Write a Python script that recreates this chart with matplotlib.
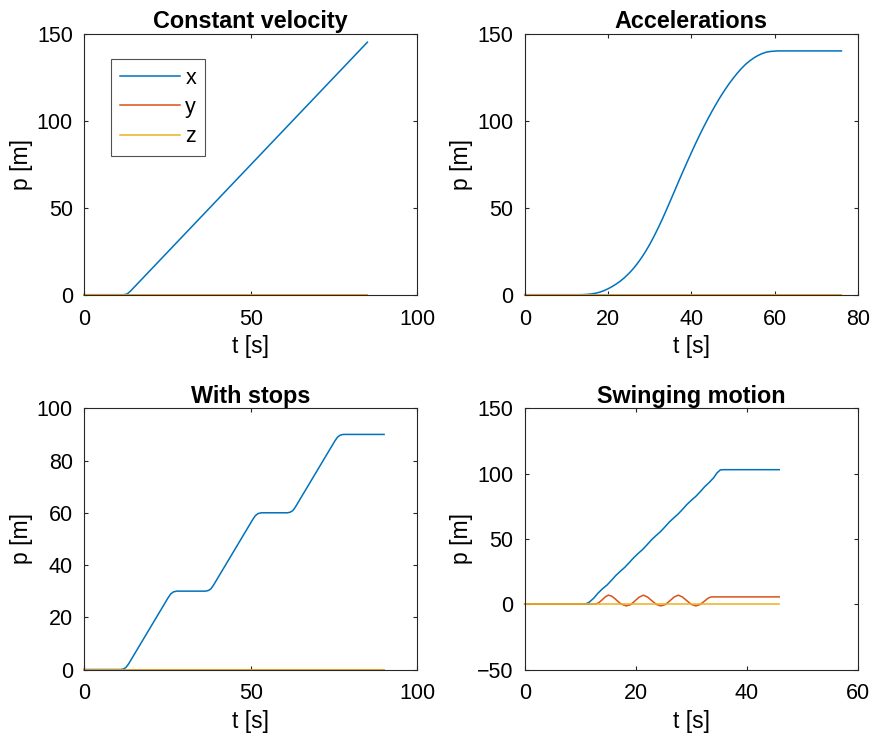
#!/usr/bin/env python3
import matplotlib
matplotlib.use("Agg")
import matplotlib.pyplot as plt

# Trajectory samples for four test cases: time [s] and position [m]
# Constant velocity
t_const = [0, 12.0, 13.0, 14.0, 15.0, 85.0]
x_const = [0, 0.0, 0.5, 2.2, 4.2, 145.0]
tend_const = 85.0

# Accelerations (smooth S-curve)
t_acc = [0, 13, 14, 15, 16, 17, 18, 19, 20, 21, 22, 23, 24, 25, 26, 27, 28,
         29, 30, 31, 32, 33, 34, 35, 36, 37, 38, 39, 40, 41, 42, 43, 44, 45,
         46, 47, 48, 49, 50, 51, 52, 53, 54, 55, 56, 57, 58, 59, 60, 61, 62, 76]
x_acc = [0, 0, 0.05, 0.2, 0.45, 0.85, 1.45, 2.3, 3.4, 4.7, 6.2, 7.9, 9.9,
         12.2, 14.8, 17.8, 21.1, 24.8, 28.9, 33.4, 38.2, 43.3, 48.7, 54.2,
         59.8, 65.4, 70.9, 76.3, 81.6, 86.8, 91.8, 96.6, 101.2, 105.6, 109.8,
         113.8, 117.5, 121.0, 124.2, 127.2, 129.9, 132.3, 134.3, 136.0, 137.4,
         138.5, 139.3, 139.7, 139.9, 140.0, 140.0, 140.0]
tend_acc = 76.0

# With stops
t_stop = [0, 11.0, 11.8, 12.6, 13.4, 25.2, 26.0, 26.8, 27.8,
          36.4, 37.2, 38.0, 38.8, 50.6, 51.4, 52.2, 53.2,
          61.0, 61.8, 62.6, 63.4, 75.2, 76.0, 76.8, 77.8, 90.0]
x_stop = [0, 0, 0.2, 0.8, 2.2, 27.4, 28.9, 29.7, 30.0,
          30.0, 30.2, 30.8, 32.2, 57.4, 58.9, 59.7, 60.0,
          60.0, 60.2, 60.8, 62.2, 87.4, 88.9, 89.7, 90.0, 90.0]
tend_stop = 90.0

# Swinging motion
t_sw_x = [0, 10.9, 11.6, 12.4, 13.2, 14.0, 14.8, 15.6, 16.4, 17.2, 18.0,
          18.8, 19.6, 20.4, 21.2, 22.0, 22.8, 23.6, 24.4, 25.2, 26.0, 26.8,
          27.6, 28.4, 29.2, 30.0, 30.8, 31.6, 32.4, 33.2, 34.0, 34.6, 35.2,
          35.8, 45.8]
x_sw = [0, 0, 1.5, 4.5, 8.5, 11.8, 14.6, 18.2, 22.0, 25.2, 28.2,
        31.8, 35.5, 38.8, 41.8, 45.4, 49.2, 52.4, 55.4, 59.0, 62.8, 66.0,
        69.0, 72.6, 76.4, 79.6, 82.6, 86.2, 90.0, 93.2, 96.8, 100.5, 102.8,
        103.0, 103.0]
t_sw_y = [0, 12.7, 13.3, 13.9, 14.5, 15.05, 15.6, 16.2, 16.8, 17.4, 18.3,
          19.1, 19.8, 20.6, 21.35, 22.1, 22.9, 23.7, 24.5, 25.3, 26.1, 26.9,
          27.65, 28.4, 29.2, 30.0, 30.8, 31.6, 32.4, 33.0, 33.5, 34.0, 45.8]
y_sw = [0, 0, 1.0, 3.2, 5.6, 6.9, 6.3, 4.4, 2.0, 0.0, -1.3,
        -0.3, 2.4, 5.4, 6.9, 5.5, 2.6, -0.2, -1.3, -0.3, 2.5, 5.5,
        6.9, 5.5, 2.6, -0.2, -1.3, -0.2, 2.5, 4.6, 5.5, 5.6, 5.6]
tend_sw = 45.8

C_X = "#0072BD"
C_Y = "#D95319"
C_Z = "#EDB120"
AX_COLOR = "#262626"

plt.rcParams.update({
    "font.family": ["Liberation Sans", "DejaVu Sans"],
    "font.size": 15.5,
    "axes.linewidth": 0.8,
    "axes.edgecolor": AX_COLOR,
})


def style(ax, title, xlim, xticks, ylim, yticks):
    ax.set_xlim(xlim)
    ax.set_ylim(ylim)
    ax.set_xticks(xticks)
    ax.set_yticks(yticks)
    ax.set_title(title, fontsize=16.8, fontweight="bold", pad=4)
    ax.set_xlabel("t [s]", fontsize=16.5, labelpad=4)
    ax.set_ylabel("p [m]", fontsize=16.5, labelpad=3)
    ax.tick_params(direction="in", top=True, right=True, length=3, width=0.8,
                   color=AX_COLOR, labelsize=15.5)
    ax.tick_params(axis="x", pad=10)
    ax.tick_params(axis="y", pad=8)


def draw(ax, tx, x, ty, y, tend):
    lx, = ax.plot(tx, x, color=C_X, lw=1.1, clip_on=False)
    ly, = ax.plot(ty, y, color=C_Y, lw=1.1, clip_on=False)
    lz, = ax.plot([0, tend], [0, 0], color=C_Z, lw=1.1, clip_on=False)
    return lx, ly, lz


fig = plt.figure(figsize=(8.77, 7.42), dpi=100)
W, H = 877, 742
boxes = [(84, 33.5), (524.7, 33.5), (84, 408.3), (524.7, 408.3)]
axes = [fig.add_axes([l / W, 1 - (t + 261.2) / H, 333.4 / W, 261.2 / H])
        for l, t in boxes]

ax = axes[0]
lines = draw(ax, t_const, x_const, [0, tend_const], [0, 0], tend_const)
style(ax, "Constant velocity", (0, 100), [0, 50, 100], (0, 150), [0, 50, 100, 150])
leg = ax.legend(lines, ["x", "y", "z"], loc="upper left",
                bbox_to_anchor=(0.081, 0.902), borderaxespad=0,
                fontsize=15.5, frameon=True, fancybox=False,
                edgecolor=AX_COLOR, handlelength=2.8, handletextpad=0.25,
                labelspacing=0.38, borderpad=0.4)
leg.get_frame().set_linewidth(0.8)

ax = axes[1]
draw(ax, t_acc, x_acc, [0, tend_acc], [0, 0], tend_acc)
style(ax, "Accelerations", (0, 80), [0, 20, 40, 60, 80], (0, 150), [0, 50, 100, 150])

ax = axes[2]
draw(ax, t_stop, x_stop, [0, tend_stop], [0, 0], tend_stop)
style(ax, "With stops", (0, 100), [0, 50, 100], (0, 100), [0, 20, 40, 60, 80, 100])

ax = axes[3]
draw(ax, t_sw_x, x_sw, t_sw_y, y_sw, tend_sw)
style(ax, "Swinging motion", (0, 60), [0, 20, 40, 60], (-50, 150), [-50, 0, 50, 100, 150])

fig.savefig("out.png", dpi=100)
